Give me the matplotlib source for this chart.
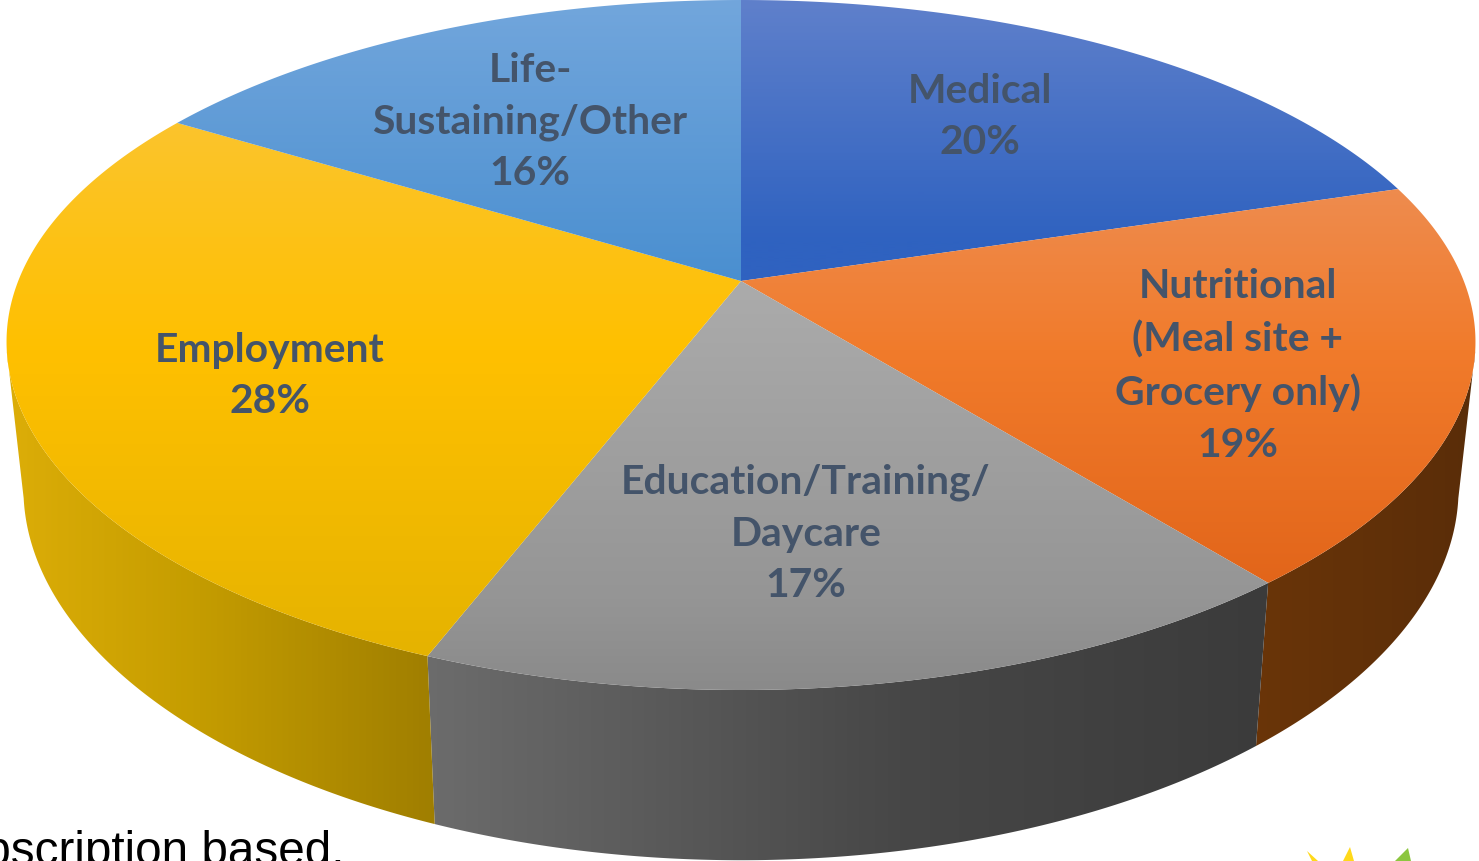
import numpy as np
import matplotlib
matplotlib.use("Agg")
import matplotlib.pyplot as plt
from matplotlib.patches import Polygon
from matplotlib.colors import LinearSegmentedColormap

# ---- data ----
categories = ["Medical", "Nutritional\n(Meal site +\nGrocery only)", "Education/Training/\nDaycare",
              "Employment", "Life-\nSustaining/Other"]
values = [20, 19, 17, 28, 16]
label_centers = [(980, 117), (1238, 366), (806, 534), (270, 376), (530, 122)]

top_gradients = [
    [(0, "#5F80CB"), (240, "#2F62C0")],
    [(195, "#EE8B4D"), (350, "#F17B2B"), (585, "#E2651A")],
    [(285, "#ABABAB"), (600, "#959595"), (690, "#8A8A8A")],
    [(125, "#FBC42C"), (350, "#FFC000"), (655, "#E5B300")],
    [(0, "#72A6DC"), (280, "#4A8FD0")],
]
side_gradients = [
    None,
    [(1255, "#6A3509"), (1475, "#5A2D08")],
    [(425, "#6C6C6C"), (900, "#474747"), (1270, "#3B3B3B")],
    [(0, "#DDAE08"), (200, "#C49C00"), (435, "#9F7E00")],
    None,
]
footer_text = "Subscription based."
icon_colors = ["#FFD91A", "#FFD91A", "#8CC63F"]

# ---- geometry of the tilted pie (pixels) ----
W, H = 1479, 861
CX, CY = 741, 281
RX = 725
PERSP_X = 0.16
PERSP_Y = 0.1855
Y_AMP = 281
Y_BULGE = 6
XSCALE_BOTTOM, YSCALE_BOTTOM, YSHIFT_BOTTOM = 0.977, 1.067, 124
VIS_LO, VIS_HI = np.deg2rad(100.7), np.deg2rad(259.3)


def rim(theta):
    x = CX + RX * np.sin(theta) / (1 + PERSP_X * np.cos(theta))
    y = (CY - Y_AMP * np.cos(theta)) / (1 + PERSP_Y * np.cos(theta))
    return x, y + Y_BULGE * np.sin(theta) ** 2


def lower(x, y):
    return CX + (x - CX) * XSCALE_BOTTOM, y * YSCALE_BOTTOM + YSHIFT_BOTTOM


def gradient_fill(ax, poly_xy, stops, vertical, zorder):
    limit = H if vertical else W
    stops = [(-20, stops[0][1])] + list(stops) + [(limit + 20, stops[-1][1])]
    lo, hi = stops[0][0], stops[-1][0]
    cmap = LinearSegmentedColormap.from_list(
        "g", [((p - lo) / (hi - lo), c) for p, c in stops])
    ramp = np.linspace(0, 1, 1024)
    if vertical:
        img, ext = ramp[:, None], (0, W, hi, lo)
    else:
        img, ext = ramp[None, :], (lo, hi, H, 0)
    im = ax.imshow(img, cmap=cmap, extent=ext, aspect="auto", zorder=zorder,
                   origin="upper", interpolation="bilinear")
    patch = Polygon(poly_xy, closed=True, transform=ax.transData,
                    fc="none", ec="none")
    ax.add_patch(patch)
    im.set_clip_path(patch)


fig = plt.figure(figsize=(W / 100, H / 100), dpi=100)
ax = fig.add_axes([0, 0, 1, 1])
ax.axis("off")

edges = np.deg2rad(np.cumsum([0] + values) / sum(values) * 360)
for i in range(len(values)):
    if side_gradients[i] is None:
        continue
    start, stop = max(edges[i], VIS_LO), min(edges[i + 1], VIS_HI)
    th = np.linspace(start, stop, 200)
    x, y = rim(th)
    x2, y2 = lower(x, y)
    side = np.column_stack([np.r_[x, x2[::-1]], np.r_[y, y2[::-1]]])
    gradient_fill(ax, side, side_gradients[i], False, 1 + i * 0.01)
for i in range(len(values)):
    th = np.linspace(edges[i], edges[i + 1], 200)
    x, y = rim(th)
    face = np.column_stack([np.r_[CX, x], np.r_[CY, y]])
    gradient_fill(ax, face, top_gradients[i], True, 2 + i * 0.01)

for name, val, (lx, ly) in zip(categories, values, label_centers):
    ax.text(lx, ly, f"{name}\n{val}%", ha="center", va="center", ma="center",
            family="Lato", weight="bold", fontsize=29.4, color="#44546A",
            linespacing=1.49, zorder=5)

ax.text(345, 865, footer_text, ha="right", va="baseline", family="Liberation Sans",
        fontsize=34.3, color="black", zorder=5)

tips = [((1307, 851), (1312, 861), (1318, 861)),
        ((1350, 847), (1343, 861), (1354, 861)),
        ((1408, 848), (1395, 861), (1411, 861))]
for tri, col in zip(tips, icon_colors):
    ax.add_patch(Polygon(tri, closed=True, fc=col, ec="none", zorder=5))

ax.set_xlim(0, W)
ax.set_ylim(H, 0)
fig.savefig("out.png", dpi=100, facecolor="white")
